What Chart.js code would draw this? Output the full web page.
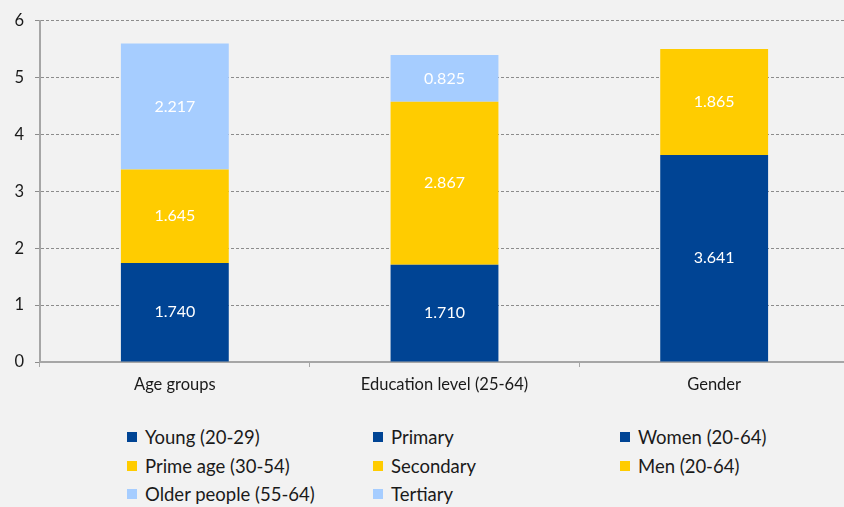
<!DOCTYPE html>
<html>
<head>
<meta charset="utf-8">
<script src="https://cdn.jsdelivr.net/npm/chart.js@4"></script>
<style>
  html, body { margin: 0; padding: 0; background: #f2f2f2; }
  #wrap { position: relative; width: 844px; height: 507px; background: #f2f2f2; overflow: hidden; }
  #cv { position: absolute; left: 0; top: 0; }
  .lg { position: absolute; display: flex; align-items: center; font-family: Lato, "Open Sans", sans-serif; font-size: 18.5px; color: #1a1a1a; white-space: nowrap; }
  .lg i { display: inline-block; width: 10px; height: 10px; margin-right: 8px; }
</style>
</head>
<body>
<div id="wrap">
  <canvas id="cv" width="849" height="400"></canvas>
</div>
<script>
const categories = ['Age groups', 'Education level (25-64)', 'Gender'];
const yTicks = [0, 1, 2, 3, 4, 5, 6];

const ageNames = ['Young (20-29)', 'Prime age (30-54)', 'Older people (55-64)'];
const ageValues = [1.740, 1.645, 2.217];
const eduNames = ['Primary', 'Secondary', 'Tertiary'];
const eduValues = [1.710, 2.867, 0.825];
const genderNames = ['Women (20-64)', 'Men (20-64)'];
const genderValues = [3.641, 1.865];

const colors = ['#004494', '#ffcc00', '#a6cdff'];

const groups = [
  { names: ageNames, values: ageValues },
  { names: eduNames, values: eduValues },
  { names: genderNames, values: genderValues }
];

const datasets = [];
groups.forEach((g, gi) => {
  g.names.forEach((name, si) => {
    const data = categories.map((c, ci) => ci === gi ? g.values[si] : null);
    datasets.push({
      label: name,
      data: data,
      backgroundColor: colors[si],
      borderWidth: 0,
      stack: 's',
      group: gi,
      sub: si
    });
  });
});

const labelPlugin = {
  id: 'segLabels',
  afterDatasetsDraw(chart) {
    const ctx = chart.ctx;
    ctx.save();
    ctx.fillStyle = '#ffffff';
    ctx.font = '16px Lato, "Open Sans", sans-serif';
    ctx.textAlign = 'center';
    ctx.textBaseline = 'middle';
    chart.data.datasets.forEach((ds, di) => {
      const meta = chart.getDatasetMeta(di);
      meta.data.forEach((el, i) => {
        const v = ds.data[i];
        if (v === null || v === undefined) return;
        ctx.fillText(v.toFixed(3), el.x, (el.y + el.base) / 2);
      });
    });
    ctx.restore();
  }
};

const font = { family: 'Lato, "Open Sans", sans-serif', size: 16.5 };

new Chart(document.getElementById('cv'), {
  type: 'bar',
  data: { labels: categories, datasets: datasets },
  options: {
    responsive: false,
    animation: false,
    devicePixelRatio: 1,
    layout: { padding: { top: 19, right: 0, left: 0, bottom: 0 } },
    datasets: { bar: { categoryPercentage: 1, barPercentage: 0.4 } },
    plugins: { legend: { display: false }, tooltip: { enabled: false } },
    scales: {
      x: {
        stacked: true,
        offset: true,
        grid: { display: true, drawOnChartArea: false, drawTicks: true, tickLength: 5, offset: true, color: '#a6a6a6', lineWidth: 1 },
        border: { display: true, color: '#a6a6a6', width: 2 },
        ticks: { color: '#1a1a1a', font: font, padding: 8, maxRotation: 0 },
        afterFit(s) { s.height = 38; }
      },
      y: {
        stacked: true,
        min: 0,
        max: 6,
        afterBuildTicks(s) { s.ticks = yTicks.map(v => ({ value: v })); },
        grid: { color: '#8c8c8c', lineWidth: 1, tickLength: 5, drawTicks: true },
        border: { display: true, color: '#a6a6a6', width: 2, dash: [3, 2] },
        ticks: { color: '#1a1a1a', font: font, padding: 11 },
        afterFit(s) { s.width = 40; }
      }
    }
  },
  plugins: [labelPlugin]
});

// HTML legend built from the same dataset arrays
const wrap = document.getElementById('wrap');
const colX = [127, 373, 620];
const rowY = [437, 466, 494];
datasets.forEach(ds => {
  const d = document.createElement('div');
  d.className = 'lg';
  d.style.left = colX[ds.group] + 'px';
  d.style.top = (rowY[ds.sub] - 11) + 'px';
  d.style.height = '22px';
  const sq = document.createElement('i');
  sq.style.background = ds.backgroundColor;
  d.appendChild(sq);
  d.appendChild(document.createTextNode(ds.label));
  wrap.appendChild(d);
});
</script>
</body>
</html>
